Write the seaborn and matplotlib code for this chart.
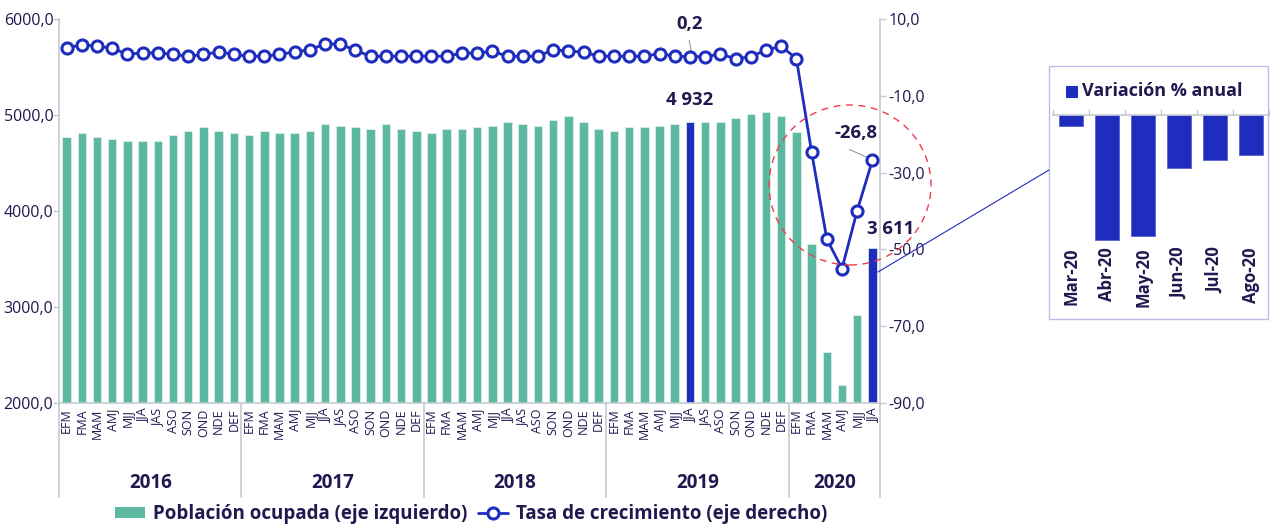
import numpy as np
import pandas as pd
import matplotlib
matplotlib.use("Agg")
import matplotlib.pyplot as plt
import seaborn as sns
from matplotlib.patches import Ellipse, Rectangle, Patch
from matplotlib.lines import Line2D

# ---------------- data ----------------
years = ["2016", "2017", "2018", "2019", "2020"]
months = ["EFM", "FMA", "MAM", "AMJ", "MJJ", "JJA", "JAS", "ASO", "SON", "OND", "NDE", "DEF"]
periods = months * 4 + months[:6]

employed = [
    4771, 4808, 4771, 4750, 4729, 4729, 4729, 4791, 4829, 4870, 4829, 4808,   # 2016
    4791, 4829, 4808, 4808, 4829, 4908, 4890, 4870, 4849, 4908, 4849, 4829,   # 2017
    4808, 4849, 4849, 4870, 4890, 4928, 4908, 4890, 4949, 4990, 4928, 4849,   # 2018
    4829, 4870, 4870, 4890, 4908, 4932, 4928, 4928, 4969, 5010, 5027, 4993,   # 2019
    4826, 3655, 2534, 2190, 2917, 3611,                                       # 2020
]
growth = [
    2.4, 3.3, 2.9, 2.4, 0.8, 1.2, 1.2, 0.8, 0.3, 0.8, 1.4, 0.8,
    0.3, 0.3, 0.8, 1.4, 2.0, 3.5, 3.5, 1.8, 0.3, 0.3, 0.3, 0.3,
    0.3, 0.3, 1.1, 1.1, 1.6, 0.3, 0.3, 0.3, 2.0, 1.6, 1.4, 0.3,
    0.3, 0.3, 0.3, 1.0, 0.3, 0.2, 0.2, 0.9, -0.4, 0.2, 1.9, 2.9,
    -0.3, -24.6, -47.3, -55.0, -39.9, -26.8,
]
highlight_idx = [41, 53]

inset_months = ["Mar-20", "Abr-20", "May-20", "Jun-20", "Jul-20", "Ago-20"]
inset_values = [-6.0, -70.0, -67.8, -29.7, -25.2, -22.4]

# ---------------- style ----------------
GREEN = "#5cb8a1"
BLUE = "#1f2dbf"
TXT = "#22174f"
GRAY = "#c3cbcf"

sns.set_theme(style="white")
plt.rcParams["font.family"] = ["Open Sans", "DejaVu Sans"]

W, H = 1270, 526
fig = plt.figure(figsize=(W / 100, H / 100), dpi=100)

def fx(px):
    return px / W

def fy(py):
    return 1 - py / H

ax = fig.add_axes([fx(59), fy(403), fx(880) - fx(59), fy(19) - fy(403)])

df = pd.DataFrame({
    "pos": np.arange(len(employed)),
    "val": employed,
    "grp": ["hl" if i in highlight_idx else "base" for i in range(len(employed))],
})
sns.barplot(data=df, x="pos", y="val", hue="grp",
            palette={"base": GREEN, "hl": BLUE}, dodge=False, width=0.56,
            saturation=1, legend=False, ax=ax, edgecolor="#e3f3ee", linewidth=0.5)
ax.set_ylim(2000, 6000)
ax.set_xlim(-0.5, len(employed) - 0.5)

ax2 = ax.twinx()
sns.lineplot(x=df["pos"], y=growth, ax=ax2, color=BLUE, lw=2.0, marker="o",
             markersize=8, markerfacecolor="white", markeredgecolor=BLUE,
             markeredgewidth=2.2, zorder=5)
ax2.set_ylim(-90, 10)
ax.set_xlim(-0.5, len(employed) - 0.5)

# axes formatting
ax.set_xlabel("")
ax.set_ylabel("")
ax2.set_ylabel("")
lticks = [2000, 3000, 4000, 5000, 6000]
ax.set_yticks(lticks)
ax.set_yticklabels([f"{v:.1f}".replace(".", ",") for v in lticks])
rticks = [10, -10, -30, -50, -70, -90]
ax2.set_yticks(rticks)
ax2.set_yticklabels([f"{v:.1f}".replace(".", ",") for v in rticks])
ax.set_xticks(range(len(periods)))
ax.set_xticklabels(periods, rotation=90, fontsize=9, color=TXT)
ax.tick_params(axis="x", length=0, pad=4)
ax.tick_params(axis="y", length=4, color=GRAY, width=1, labelsize=11.5, labelcolor=TXT, pad=0)
ax2.tick_params(axis="y", length=4, color=GRAY, width=1, labelsize=11.5, labelcolor=TXT, pad=2)
ax.grid(False)
ax2.grid(False)
for s in ["top", "right"]:
    ax.spines[s].set_visible(False)
for s in ["top", "left", "bottom"]:
    ax2.spines[s].set_visible(False)
for sp in [ax.spines["left"], ax.spines["bottom"], ax2.spines["right"]]:
    sp.set_color(GRAY)
    sp.set_linewidth(1.2)

# year group separators & labels
trans = ax.get_xaxis_transform()
sep_bottom = -(497 - 403) / 384
for xb in [-0.5, 11.5, 23.5, 35.5, 47.5, 53.5]:
    ax.plot([xb, xb], [0, sep_bottom], transform=trans, color=GRAY, lw=1.2, clip_on=False)
year_centers = [5.5, 17.5, 29.5, 41.5, 50.5]
for yr, xc in zip(years, year_centers):
    ax.text(xc, -(483 - 403) / 384, yr, transform=trans, ha="center", va="center",
            fontsize=13.5, fontweight="bold", color=TXT)

# annotations
ax.text(41, 5156, "4 932", ha="center", va="center", fontsize=13.3, fontweight="bold", color=TXT)
ax.text(54.2, 3812, "3 611", ha="center", va="center", fontsize=13.3, fontweight="bold", color=TXT, clip_on=False)
ax2.text(41, 8.6, "0,2", ha="center", va="center", fontsize=13.3, fontweight="bold", color=TXT)
ax2.plot([40.95, 41.1], [4.4, 1.3], color="#999999", lw=0.8)
ax2.text(51.9, -19.8, "-26,8", ha="center", va="center", fontsize=13.3, fontweight="bold", color=TXT)
ax2.plot([51.5, 52.75], [-24.0, -26.2], color="#999999", lw=0.8)

# red dashed circle
circ = Ellipse((fx(850), fy(185)), 162 / W, 160 / H, transform=fig.transFigure,
               fill=False, edgecolor="#ee3b4a", lw=1.0, ls=(0, (5, 4)), zorder=10)
fig.patches.append(circ)

# connector line
fig.lines.append(Line2D([fx(878), fx(1049)], [fy(272), fy(170)], transform=fig.transFigure,
                        color=BLUE, lw=0.8))

# main legend
handles = [Patch(facecolor=GREEN, edgecolor="none"),
           Line2D([0], [0], color=BLUE, lw=2, marker="o", markersize=8,
                  markerfacecolor="white", markeredgecolor=BLUE, markeredgewidth=2.2)]
leg = fig.legend(handles, ["Población ocupada (eje izquierdo)", "Tasa de crecimiento (eje derecho)"],
                 loc="center", bbox_to_anchor=(fx(471), fy(514)), ncol=2, frameon=False,
                 prop={"size": 13.5, "weight": "bold"}, handlelength=1.6, handleheight=0.55,
                 columnspacing=0.6, handletextpad=0.4, borderpad=0)
for t in leg.get_texts():
    t.set_color(TXT)

# inset frame
fig.patches.append(Rectangle((fx(1049), fy(319)), (1268 - 1049) / W, (319 - 66) / H,
                             transform=fig.transFigure, fill=False, edgecolor="#b8bde9", lw=1.0))
fig.patches.append(Rectangle((fx(1066), fy(98)), 12 / W, 12 / H, transform=fig.transFigure,
                             facecolor=BLUE, edgecolor="none"))
fig.text(fx(1082), fy(91), "Variación % anual", ha="left", va="center", fontsize=13,
         fontweight="bold", color=TXT)

# inset chart
iax = fig.add_axes([fx(1053), fy(243), (1269 - 1053) / W, (243 - 115) / H])
idf = pd.DataFrame({"mes": inset_months, "val": inset_values})
sns.barplot(data=idf, x="mes", y="val", color=BLUE, width=0.67, saturation=1, ax=iax,
            edgecolor="#4a55cf", linewidth=0.5)
iax.set_ylim(-71.7, 0)
iax.set_xlim(-0.5, len(inset_months) - 0.5)
iax.set_xlabel("")
iax.set_ylabel("")
iax.set_yticks([])
iax.tick_params(axis="x", length=0, pad=3, labelsize=12, labelcolor=TXT, rotation=90)
for lab in iax.get_xticklabels():
    lab.set_fontweight("bold")
for s in ["left", "right", "bottom"]:
    iax.spines[s].set_visible(False)
iax.spines["top"].set_color(GRAY)
iax.spines["top"].set_linewidth(1.2)
itrans = iax.get_xaxis_transform()
for xb in np.arange(-0.5, len(inset_months) + 0.5, 1.0):
    iax.plot([xb, xb], [1.0, 1.04], transform=itrans, color=GRAY, lw=1.0, clip_on=False)
iax.grid(False)
iax.set_facecolor("none")
ax.set_facecolor("none")

fig.savefig("out.png", dpi=100)
